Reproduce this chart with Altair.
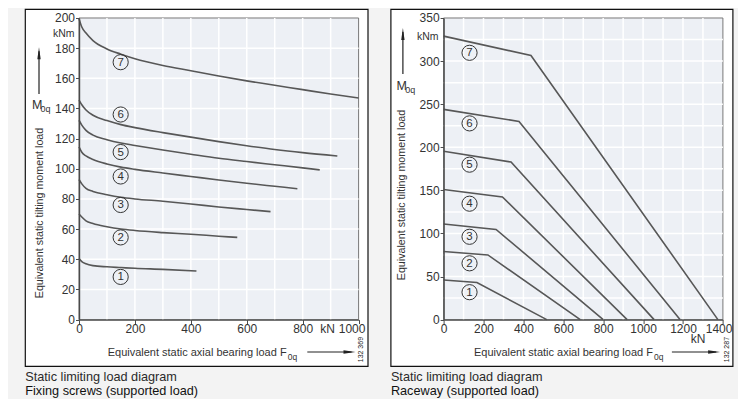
import altair as alt
import pandas as pd

FONT = "Liberation Sans"
INK = "#333333"
CURVE = "#575757"
PLOTBG = "#edf0f5"

# ---------------- Fixing screws (left diagram) ----------------
screw_x1 = [0, 10, 25, 50, 100, 150, 200, 300, 420]
screw_y1 = [40.5, 38.5, 37.0, 35.8, 35.0, 34.5, 34.0, 33.3, 32.2]
screw_x2 = [0, 10, 25, 50, 100, 150, 200, 300, 400, 500, 566]
screw_y2 = [70.0, 68.0, 65.5, 63.7, 61.6, 60.1, 59.1, 57.7, 56.6, 55.3, 54.5]
screw_x3 = [0, 10, 25, 50, 100, 150, 200, 300, 400, 500, 600, 685]
screw_y3 = [92.9, 90.0, 87.0, 85.0, 82.8, 81.1, 80.0, 78.5, 76.7, 74.7, 73.0, 71.6]
screw_x4 = [0, 10, 25, 50, 100, 150, 200, 300, 400, 500, 600, 700, 781]
screw_y4 = [114.5, 111.0, 108.5, 106.2, 103.2, 101.1, 99.6, 97.2, 94.9, 92.6, 90.4, 88.4, 86.8]
screw_x5 = [0, 10, 25, 50, 100, 150, 200, 300, 400, 500, 600, 700, 800, 861]
screw_y5 = [132.2, 129.0, 125.5, 122.3, 119.3, 117.1, 115.5, 112.5, 109.7, 107.0, 104.8, 102.7, 100.6, 99.3]
screw_x6 = [0, 10, 25, 50, 100, 150, 200, 300, 400, 500, 600, 700, 800, 924]
screw_y6 = [145.6, 142.5, 139.0, 135.5, 132.0, 129.3, 127.3, 124.0, 121.0, 118.0, 115.3, 112.8, 110.7, 108.5]
screw_x7 = [0, 10, 25, 50, 100, 150, 200, 300, 400, 500, 600, 700, 800, 900, 1000]
screw_y7 = [199.5, 194.0, 190.0, 185.0, 179.5, 176.0, 173.0, 168.5, 165.0, 161.5, 158.3, 155.4, 152.5, 149.6, 147.0]
screw_label_x = [149, 149, 149, 149, 149, 149, 149]
screw_label_y = [28.3, 54.5, 76.0, 94.9, 111.1, 136.0, 170.7]
screw_xticks = [0, 200, 400, 600, 800, 1000]
screw_yticks = [0, 20, 40, 60, 80, 100, 120, 140, 160, 180, 200]
screw_xgrid = [100, 200, 300, 400, 500, 600, 700, 800, 900]
screw_ygrid = [20, 40, 60, 80, 100, 120, 140, 160, 180]

# ---------------- Raceway (right diagram) ----------------
race_x1 = [0, 167, 517]
race_y1 = [46.0, 43.0, 0.0]
race_x2 = [0, 222, 685]
race_y2 = [79.0, 75.0, 0.0]
race_x3 = [0, 263, 800]
race_y3 = [111.0, 104.6, 0.0]
race_x4 = [0, 295, 920]
race_y4 = [151.0, 142.3, 0.0]
race_x5 = [0, 338, 1055]
race_y5 = [195.4, 182.8, 0.0]
race_x6 = [0, 378, 1185]
race_y6 = [244.0, 230.0, 0.0]
race_x7 = [0, 438, 1375]
race_y7 = [329.0, 306.5, 0.0]
race_label_x = [130, 130, 130, 130, 130, 130, 130]
race_label_y = [31.8, 65.3, 96.1, 134.5, 179.8, 227.7, 309.6]
race_xticks = [0, 200, 400, 600, 800, 1000, 1200, 1400]
race_yticks = [0, 50, 100, 150, 200, 250, 300, 350]
race_xgrid = [100, 200, 300, 400, 500, 600, 700, 800, 900, 1000, 1100, 1200, 1300]
race_ygrid = [25, 50, 75, 100, 125, 150, 175, 200, 225, 250, 275, 300, 325]

curve_names = ["1", "2", "3", "4", "5", "6", "7"]

ONE = alt.Data(values=[{}])


def long_df(xs, ys):
    rows = []
    for name, xl, yl in zip(curve_names, xs, ys):
        for i, (a, b) in enumerate(zip(xl, yl)):
            rows.append({"curve": name, "x": a, "y": b, "i": i})
    return pd.DataFrame(rows)


def txt(s, x, y, size=11, align="left", angle=None, color=INK):
    kw = dict(text=s, fontSize=size, align=align, baseline="middle",
              color=color, font=FONT)
    if angle is not None:
        kw["angle"] = angle
    return alt.Chart(ONE).mark_text(**kw).encode(x=alt.value(x), y=alt.value(y))


def hrule(x1, x2, y, color="#222", w=1.2):
    return alt.Chart(ONE).mark_rule(color=color, strokeWidth=w).encode(
        x=alt.value(x1), x2=alt.value(x2), y=alt.value(y))


def vrule(x, y1, y2, color="#222", w=1.2):
    return alt.Chart(ONE).mark_rule(color=color, strokeWidth=w).encode(
        x=alt.value(x), y=alt.value(y1), y2=alt.value(y2))


def head(x, y, path):
    return alt.Chart(ONE).mark_point(shape=path, filled=True, color="#222",
                                     size=144, opacity=1, strokeWidth=0).encode(
        x=alt.value(x), y=alt.value(y))


RIGHT_HEAD = "M-1,-0.28L1,0L-1,0.28Z"
UP_HEAD = "M-0.28,1L0,-1L0.28,1Z"


def panel(xs, ys, lab_x, lab_y, xdom, ydom, xticks, yticks, xgrid, ygrid,
          W, H, last_tick, last_off, interp, g, caption2, code):
    xsc = alt.Scale(domain=xdom, nice=False, zero=False)
    ysc = alt.Scale(domain=ydom, nice=False, zero=False)
    xaxis = alt.Axis(values=xticks, title=None, grid=False, format="d",
                     domainColor="#4a4a4a",
                     domainWidth=1.4, tickColor="#4a4a4a", tickSize=4, tickWidth=1,
                     labelFont=FONT, labelFontSize=12, labelColor=INK,
                     labelPadding=0, labelFlush=False, labelOverlap=False,
                     labelBound=False, zindex=1,
                     labelOffset={"condition": {"test": f"datum.value == {last_tick}",
                                                "value": last_off}, "value": 0})
    yaxis = alt.Axis(values=yticks, title=None, grid=False, format="d",
                     domainColor="#4a4a4a",
                     domainWidth=1.4, tickColor="#4a4a4a", tickSize=3.5, tickWidth=1,
                     labelFont=FONT, labelFontSize=12, labelColor=INK,
                     labelPadding=1, labelFlush=False, labelOverlap=False,
                     labelBound=False, zindex=1)
    X = lambda f: alt.X(f, scale=xsc, axis=xaxis)
    Y = lambda f: alt.Y(f, scale=ysc, axis=yaxis)

    box = alt.Chart(ONE).mark_rect(fill="white", stroke="#111", strokeWidth=1.2).encode(
        x=alt.value(g["bx1"]), x2=alt.value(W + g["bx2"]),
        y=alt.value(-8.7), y2=alt.value(348.3))
    bg = alt.Chart(ONE).mark_rect(fill=PLOTBG, stroke="#777", strokeWidth=1).encode(
        x=alt.value(0), x2=alt.value(W), y=alt.value(0), y2=alt.value(H))
    gx = alt.Chart(pd.DataFrame({"v": xgrid})).mark_rule(
        color="white", strokeWidth=1.5).encode(x=X("v:Q"))
    gy = alt.Chart(pd.DataFrame({"v": ygrid})).mark_rule(
        color="white", strokeWidth=1.5).encode(y=Y("v:Q"))

    lines = alt.Chart(long_df(xs, ys)).mark_line(
        color=CURVE, strokeWidth=1.6, interpolate=interp).encode(
        x=X("x:Q"), y=Y("y:Q"), detail="curve:N", order="i:Q")

    labs = pd.DataFrame({"n": curve_names, "x": lab_x, "y": lab_y})
    circ = alt.Chart(labs).mark_point(shape="circle", size=230, filled=False,
                                      color="#333", strokeWidth=1, opacity=1).encode(
        x=X("x:Q"), y=Y("y:Q"))
    digits = alt.Chart(labs).mark_text(fontSize=11.5, font=FONT, color="#333",
                                       baseline="middle", align="center", dy=0.5).encode(
        x=X("x:Q"), y=Y("y:Q"), text="n:N")

    deco = [
        txt("kNm", g["knm_x"], g["knm_y"], size=10.5, align="right"),
        txt("M", -47, g["m_y"], size=12.5),
        txt("0q", -38.4, g["m_y"] + 4, size=9),
        vrule(g["ua_x"], g["ua_tip"] + 4, g["ua_bot"]),
        head(g["ua_x"], g["ua_tip"] + 6, UP_HEAD),
        txt("Equivalent static tilting moment load", g["yt_x"], g["yt_y"],
            size=10.7, align="center", angle=270),
        txt("kN", g["kn_x"], g["kn_y"], size=12, align="center"),
        txt("Equivalent static axial bearing load  F", g["xt_r"], 335, size=11,
            align="right"),
        txt("0q", g["xt_r"] + 1.2, 338.8, size=8.5),
        hrule(228.3, 272.5, 334),
        head(270.5, 334, RIGHT_HEAD),
        txt(code, g["code_x"], 331.6, size=7, align="center", angle=270, color="#222"),
        txt("Static limiting load diagram", g["bx1"], 359.5, size=12.7, color="#2a2a2a"),
        txt(caption2, g["bx1"], 373.5, size=12.7, color="#111"),
    ]

    return alt.layer(box, bg, gx, gy, lines, circ, digits, *deco).properties(
        width=W, height=H)


left = panel(
    [screw_x1, screw_x2, screw_x3, screw_x4, screw_x5, screw_x6, screw_x7],
    [screw_y1, screw_y2, screw_y3, screw_y4, screw_y5, screw_y6, screw_y7],
    screw_label_x, screw_label_y, [0, 1000], [0, 200],
    screw_xticks, screw_yticks, screw_xgrid, screw_ygrid,
    279.6, 301.6, 1000, -7, "monotone",
    dict(bx1=-53.7, bx2=9.4, knm_x=-4.4, knm_y=15.6, m_y=87.0,
         ua_x=-40, ua_tip=29.3, ua_bot=76, yt_x=-39.4, yt_y=195,
         kn_x=248.6, kn_y=311, xt_r=207.6, code_x=282.3),
    "Fixing screws (supported load)", "132 369")

right = panel(
    [race_x1, race_x2, race_x3, race_x4, race_x5, race_x6, race_x7],
    [race_y1, race_y2, race_y3, race_y4, race_y5, race_y6, race_y7],
    race_label_x, race_label_y, [0, 1400], [0, 350],
    race_xticks, race_yticks, race_xgrid, race_ygrid,
    279.3, 301.6, 1400, -4.3, "linear",
    dict(bx1=-52.7, bx2=10, knm_x=-5, knm_y=19, m_y=67.7,
         ua_x=-40.7, ua_tip=10, ua_bot=56, yt_x=-41.7, yt_y=177,
         kn_x=254.5, kn_y=321.5, xt_r=209.3, code_x=283.3),
    "Raceway (supported load)", "132 287")

chart = alt.hconcat(left, right, spacing=20.6).properties(
    padding={"left": 16, "top": 0, "right": 4, "bottom": 0},
    background="#f3f3f3",
).configure_view(stroke=None)

chart.save("out.html", embed_options={"renderer": "svg", "actions": False})
